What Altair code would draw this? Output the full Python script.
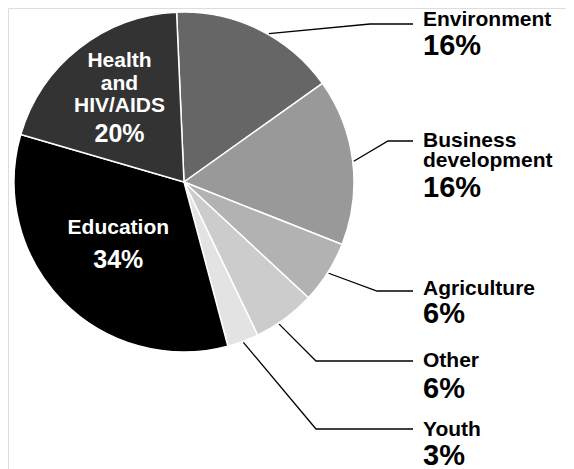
import math
import altair as alt
import pandas as pd

# ---- data ----
categories = ["Environment", "Business development", "Agriculture", "Other",
              "Youth", "Education", "Health and HIV/AIDS"]
shares = [16, 16, 6, 6, 3, 34, 20]
colors = ["#666666", "#999999", "#b2b2b2", "#cccccc", "#e3e3e3", "#000000", "#333333"]

# label text lines (name lines) per category
name_lines = [["Environment"], ["Business", "development"], ["Agriculture"], ["Other"],
              ["Youth"], ["Education"], ["Health", "and", "HIV/AIDS"]]

# ---- layout (chart coordinates, px) ----
CX, CY, R = 176, 174, 170
START = math.radians(-2.5)
FONT = "Liberation Sans"

outside = [0, 1, 2, 3, 4]
leader_frac = [0.566, 0.5, 0.5, 0.62, 0.5]
elbow_x = [362, 380, 369, 308, 308]
line_y = [16, 133, 283, 353, 421]
end_x = 405
label_x = 415
name_base = [[18], [138.7, 158.7], [287], [359], [428]]
pct_base = [47, 189.3, 315, 390, 457]

inside = [5, 6]
in_x = [110.3, 111.5]
in_name_base = [[226.3], [58.7, 82, 103.7]]
in_pct_base = [259.7, 133.7]

# ---- pie ----
pie_df = pd.DataFrame({"category": categories, "share": shares,
                       "order": list(range(len(categories)))})
pie = alt.Chart(pie_df).mark_arc(stroke="white", strokeWidth=1.5, radius=R).encode(
    theta=alt.Theta("share:Q", stack=True,
                    scale=alt.Scale(range=[START, START + 2 * math.pi])),
    order=alt.Order("order:Q"),
    color=alt.Color("category:N", scale=alt.Scale(domain=categories, range=colors),
                    legend=None),
    x=alt.value(CX), y=alt.value(CY),
)

# ---- leader lines ----
total = sum(shares)
cum = [sum(shares[:i]) for i in range(len(shares))]
rows = []
for k, i in enumerate(outside):
    frac = (cum[i] + shares[i] * leader_frac[k]) / total
    a = START + 2 * math.pi * frac
    sx = CX + 171 * math.sin(a)
    sy = CY - 171 * math.cos(a)
    pts = [(sx, sy), (elbow_x[k], line_y[k]), (end_x, line_y[k])]
    for j, (px, py) in enumerate(pts):
        rows.append({"cat": categories[i], "idx": j, "px": px, "py": py})
lines_df = pd.DataFrame(rows)
leaders = alt.Chart(lines_df).mark_line(color="black", strokeWidth=1.3).encode(
    x=alt.X("px:Q", scale=None, axis=None),
    y=alt.Y("py:Q", scale=None, axis=None),
    detail="cat:N",
    order="idx:Q",
)

# ---- text ----
trows = []
for k, i in enumerate(outside):
    for ln, yb in zip(name_lines[i], name_base[k]):
        trows.append({"t": ln, "px": label_x, "py": yb, "fs": 21, "col": "black", "al": "left"})
    trows.append({"t": f"{shares[i]}%", "px": label_x, "py": pct_base[k], "fs": 29,
                  "col": "black", "al": "left"})
for k, i in enumerate(inside):
    for ln, yb in zip(name_lines[i], in_name_base[k]):
        trows.append({"t": ln, "px": in_x[k], "py": yb, "fs": 21, "col": "white", "al": "center"})
    trows.append({"t": f"{shares[i]}%", "px": in_x[k], "py": in_pct_base[k], "fs": 25,
                  "col": "white", "al": "center"})
text_df = pd.DataFrame(trows)

left_text = alt.Chart(text_df[text_df.al == "left"]).mark_text(
    align="left", baseline="alphabetic", font=FONT, fontWeight="bold").encode(
    x=alt.X("px:Q", scale=None, axis=None),
    y=alt.Y("py:Q", scale=None, axis=None),
    text="t:N",
    size=alt.Size("fs:Q", scale=None, legend=None),
    color=alt.Color("col:N", scale=None, legend=None),
)
center_text = alt.Chart(text_df[text_df.al == "center"]).mark_text(
    align="center", baseline="alphabetic", font=FONT, fontWeight="bold").encode(
    x=alt.X("px:Q", scale=None, axis=None),
    y=alt.Y("py:Q", scale=None, axis=None),
    text="t:N",
    size=alt.Size("fs:Q", scale=None, legend=None),
    color=alt.Color("col:N", scale=None, legend=None),
)

chart = alt.layer(pie, leaders, left_text, center_text).properties(
    width=558, height=461, autosize="none", padding=0,
).configure_view(stroke=None).configure(background="white")

chart.save("out.html", embed_options={"renderer": "svg", "actions": False})
